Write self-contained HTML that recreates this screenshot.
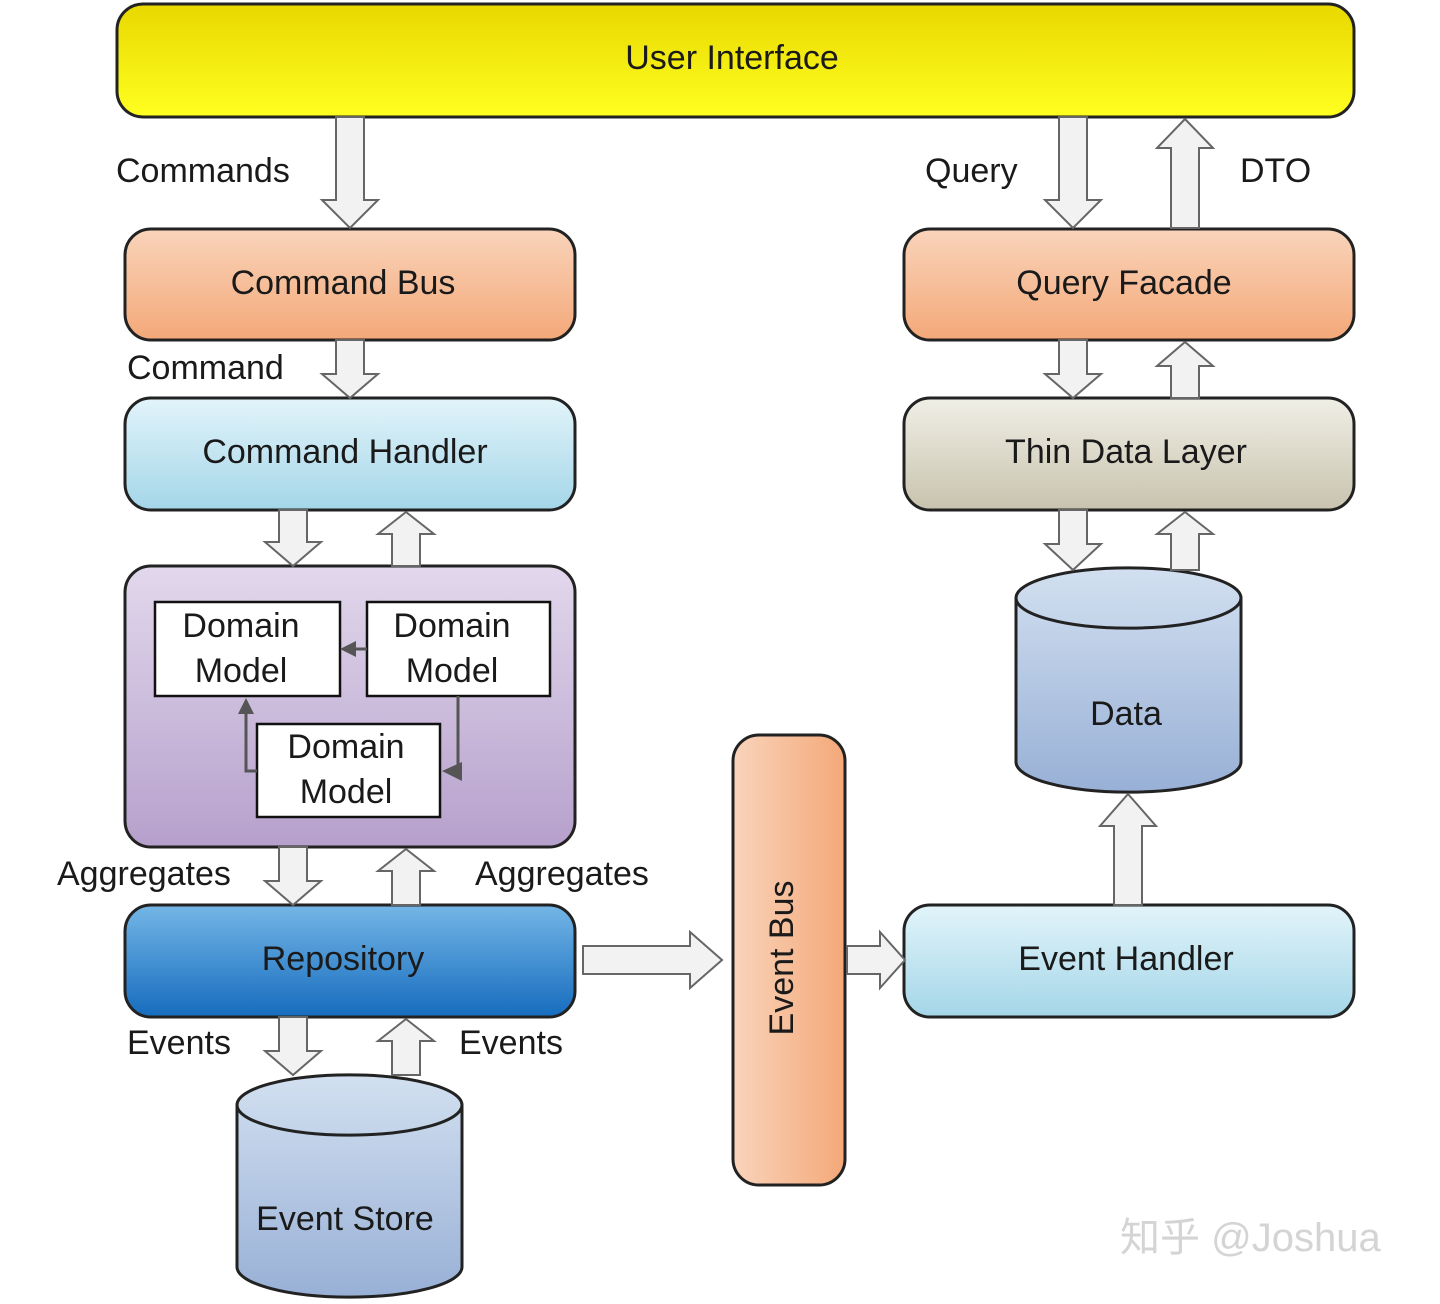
<!DOCTYPE html>
<html><head><meta charset="utf-8"><style>
html,body{margin:0;padding:0;background:#fff;}
svg text{font-family:"Liberation Sans","Noto Sans CJK SC",sans-serif;fill:#1a1a1a;}
</style></head><body>
<svg width="1440" height="1299" viewBox="0 0 1440 1299" xmlns="http://www.w3.org/2000/svg">
<defs>
<linearGradient id="yel" x1="0" y1="0" x2="0" y2="1"><stop offset="0" stop-color="#e8d800"/><stop offset="1" stop-color="#ffff20"/></linearGradient>
<linearGradient id="org" x1="0" y1="0" x2="0" y2="1"><stop offset="0" stop-color="#f9d4bb"/><stop offset="1" stop-color="#f4a878"/></linearGradient>
<linearGradient id="orgh" x1="0" y1="0" x2="1" y2="0"><stop offset="0" stop-color="#f9d4bb"/><stop offset="1" stop-color="#f4a878"/></linearGradient>
<linearGradient id="lb" x1="0" y1="0" x2="0" y2="1"><stop offset="0" stop-color="#e2f4fa"/><stop offset="1" stop-color="#a4d6e8"/></linearGradient>
<linearGradient id="pur" x1="0" y1="0" x2="0" y2="1"><stop offset="0" stop-color="#e2d8ec"/><stop offset="1" stop-color="#b6a0cc"/></linearGradient>
<linearGradient id="blu" x1="0" y1="0" x2="0" y2="1"><stop offset="0" stop-color="#74b6e6"/><stop offset="1" stop-color="#166cbe"/></linearGradient>
<linearGradient id="bei" x1="0" y1="0" x2="0" y2="1"><stop offset="0" stop-color="#f0efe6"/><stop offset="1" stop-color="#c8c3ae"/></linearGradient>
<linearGradient id="cyl" x1="0" y1="0" x2="0" y2="1"><stop offset="0" stop-color="#d2e0f0"/><stop offset="1" stop-color="#98b0d6"/></linearGradient>
</defs>
<g stroke="#222" stroke-width="3">
<rect x="117" y="4" width="1237" height="113" rx="26" fill="url(#yel)"/>
<rect x="125" y="229" width="450" height="111" rx="26" fill="url(#org)"/>
<rect x="125" y="398" width="450" height="112" rx="26" fill="url(#lb)"/>
<rect x="125" y="566" width="450" height="281" rx="26" fill="url(#pur)"/>
<rect x="125" y="905" width="450" height="112" rx="26" fill="url(#blu)"/>
<rect x="904" y="229" width="450" height="111" rx="26" fill="url(#org)"/>
<rect x="904" y="398" width="450" height="112" rx="26" fill="url(#bei)"/>
<rect x="904" y="905" width="450" height="112" rx="26" fill="url(#lb)"/>
<rect x="733" y="735" width="112" height="450" rx="26" fill="url(#orgh)"/>
<path d="M237 1105 A112 30 0 0 1 462 1105 V1267 A112 30 0 0 1 237 1267 Z" fill="url(#cyl)"/>
<path d="M237 1105 A112 30 0 0 0 462 1105" fill="none"/>
<path d="M1016 598 A112 30 0 0 1 1241 598 V762 A112 30 0 0 1 1016 762 Z" fill="url(#cyl)"/>
<path d="M1016 598 A112 30 0 0 0 1241 598" fill="none"/>
</g>
<g stroke="#111" stroke-width="2.5" fill="#fff">
<rect x="155" y="602" width="185" height="94"/>
<rect x="367" y="602" width="183" height="94"/>
<rect x="257" y="724" width="183" height="93"/>
</g>
<g stroke="#555" stroke-width="3" fill="none">
<path d="M367 649 H352"/><path d="M257 771 H246 V712"/><path d="M458 696 V771 H452"/>
</g>
<g fill="#555">
<polygon points="340,649 356,641 356,657"/>
<polygon points="246,698 238,714 254,714"/>
<polygon points="442,771 462,762 462,781"/>
</g>
<g fill="#f2f2f2" stroke="#666" stroke-width="2">
<!-- down arrows: shaft, head -->
<polygon points="336,117 364,117 364,200 378,200 350,228 322,200 336,200"/>
<polygon points="1059,117 1087,117 1087,200 1101,200 1073,228 1045,200 1059,200"/>
<polygon points="1171,228 1199,228 1199,148 1213,148 1185,119 1157,148 1171,148"/>
<polygon points="336,340 364,340 364,374 378,374 350,398 322,374 336,374"/>
<polygon points="1059,340 1087,340 1087,374 1101,374 1073,398 1045,374 1059,374"/>
<polygon points="1171,398 1199,398 1199,366 1213,366 1185,342 1157,366 1171,366"/>
<polygon points="279,510 307,510 307,542 321,542 293,566 265,542 279,542"/>
<polygon points="392,566 420,566 420,534 434,534 406,512 378,534 392,534"/>
<polygon points="1059,510 1087,510 1087,544 1101,544 1073,570 1045,544 1059,544"/>
<polygon points="1171,570 1199,570 1199,534 1213,534 1185,512 1157,534 1171,534"/>
<polygon points="279,847 307,847 307,881 321,881 293,905 265,881 279,881"/>
<polygon points="392,905 420,905 420,871 434,871 406,849 378,871 392,871"/>
<polygon points="279,1017 307,1017 307,1051 321,1051 293,1075 265,1051 279,1051"/>
<polygon points="392,1075 420,1075 420,1041 434,1041 406,1019 378,1041 392,1041"/>
<polygon points="1114,905 1142,905 1142,826 1156,826 1128,794 1100,826 1114,826"/>
<polygon points="583,946 690,946 690,932 722,960 690,988 690,974 583,974"/>
<polygon points="847,946 880,946 880,932 905,960 880,988 880,974 847,974"/>
</g>
<g font-size="34">
<text x="732" y="69" text-anchor="middle">User Interface</text>
<text x="343" y="294" text-anchor="middle">Command Bus</text>
<text x="345" y="463" text-anchor="middle">Command Handler</text>
<text x="343" y="970" text-anchor="middle">Repository</text>
<text x="1124" y="294" text-anchor="middle">Query Facade</text>
<text x="1126" y="463" text-anchor="middle">Thin Data Layer</text>
<text x="1126" y="970" text-anchor="middle">Event Handler</text>
<text x="1126" y="725" text-anchor="middle">Data</text>
<text x="345" y="1230" text-anchor="middle">Event Store</text>
<text transform="translate(793,958) rotate(-90)" text-anchor="middle">Event Bus</text>
<text x="241" y="637" text-anchor="middle">Domain</text><text x="241" y="682" text-anchor="middle">Model</text>
<text x="452" y="637" text-anchor="middle">Domain</text><text x="452" y="682" text-anchor="middle">Model</text>
<text x="346" y="758" text-anchor="middle">Domain</text><text x="346" y="803" text-anchor="middle">Model</text>
<text x="116" y="182">Commands</text>
<text x="127" y="379">Command</text>
<text x="925" y="182">Query</text>
<text x="1240" y="182">DTO</text>
<text x="57" y="885">Aggregates</text>
<text x="475" y="885">Aggregates</text>
<text x="127" y="1054">Events</text>
<text x="459" y="1054">Events</text>
</g>
<text x="1120" y="1251" font-size="40" style="fill:#d4d4d4">知乎 @Joshua</text>
</svg>
</body></html>
